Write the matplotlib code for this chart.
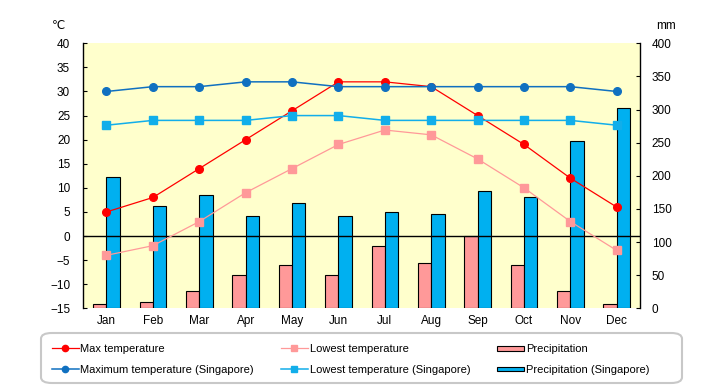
import numpy as np
import matplotlib
matplotlib.use("Agg")
import matplotlib.pyplot as plt
from matplotlib.lines import Line2D
from matplotlib.patches import Patch, FancyBboxPatch, Rectangle
from matplotlib.legend_handler import HandlerPatch

months = ["Jan", "Feb", "Mar", "Apr", "May", "Jun", "Jul", "Aug", "Sep", "Oct", "Nov", "Dec"]

max_temp = [5, 8, 14, 20, 26, 32, 32, 31, 25, 19, 12, 6]
low_temp = [-4, -2, 3, 9, 14, 19, 22, 21, 16, 10, 3, -3]
sg_max_temp = [30, 31, 31, 32, 32, 31, 31, 31, 31, 31, 31, 30]
sg_low_temp = [23, 24, 24, 24, 25, 25, 24, 24, 24, 24, 24, 23]
precip = [6, 10, 26, 50, 65, 51, 94, 68, 109, 66, 26, 6]
sg_precip = [198, 154, 171, 140, 159, 140, 145, 143, 177, 168, 252, 303]

plt.rcParams['font.family'] = ['Liberation Sans', 'DejaVu Sans']
fs = 8.5
lfs = 8.0

fig = plt.figure(figsize=(7.2, 3.85), dpi=100)
ax = fig.add_axes([83.3 / 720, 1 - 308.3 / 385, (640 - 83.3) / 720, 265 / 385])
ax2 = ax.twinx()

x = np.arange(len(months))
w = 0.287

# precipitation bars on the right axis, drawn below the temperature lines
ax2.bar(x - w / 2, precip, width=w, color="#FF9999", edgecolor="black", linewidth=0.8)
ax2.bar(x + w / 2, sg_precip, width=w, color="#00B0F0", edgecolor="black", linewidth=0.8)
ax2.set_ylim(0, 400)
ax2.set_yticks(np.arange(0, 401, 50))
ax2.set_facecolor("#FFFFCC")
ax2.patch.set_visible(True)

ax.set_zorder(ax2.get_zorder() + 1)
ax.patch.set_visible(False)

ax.axhline(0, color="black", linewidth=1.0)
ax.plot(x, max_temp, color="#FF0000", marker="o", markersize=5.5, linewidth=0.9)
ax.plot(x, low_temp, color="#FF9999", marker="s", markersize=5.5, linewidth=0.9)
ax.plot(x, sg_max_temp, color="#1070C0", marker="o", markersize=5.5, linewidth=1.1)
ax.plot(x, sg_low_temp, color="#12AEEA", marker="s", markersize=5.5, linewidth=1.1)

ax.set_ylim(-15, 40)
ax.set_yticks(np.arange(-15, 41, 5))
ax.set_xlim(-0.5, 11.5)
ax.set_xticks(x)
ax.set_xticklabels(months)

for a in (ax, ax2):
    a.spines["top"].set_visible(False)
    a.spines["bottom"].set_visible(False)
    a.spines["left"].set_linewidth(1.0)
    a.spines["right"].set_linewidth(1.0)
ax.spines["right"].set_visible(False)
ax2.spines["left"].set_visible(False)

ax.tick_params(axis="y", direction="in", length=3, pad=9.5, labelsize=fs)
ax.tick_params(axis="x", length=0, pad=5, labelsize=fs)
ax2.tick_params(axis="y", direction="in", length=3, pad=8.5, labelsize=fs)

fig.text(58 / 720, 1 - 26 / 385, "\u2103", fontsize=fs, va="center", ha="center")
fig.text(666 / 720, 1 - 26 / 385, "mm", fontsize=fs, va="center", ha="center")

# legend frame
frame = FancyBboxPatch((41 / 720, 1 - 383 / 385), (682 - 41) / 720, (383 - 333) / 385,
                       boxstyle="round,pad=0,rounding_size=0.015",
                       transform=fig.transFigure, facecolor="white",
                       edgecolor="#C8C8C8", linewidth=1.5)
fig.patches.append(frame)


def thin_rect(legend, orig_handle, xdescent, ydescent, width, height, fontsize):
    return Rectangle((-xdescent, -ydescent + height * 0.2), width, height * 0.55)


handles = [
    Line2D([], [], color="#FF0000", marker="o", markersize=4.5, linewidth=0.9),
    Line2D([], [], color="#1070C0", marker="o", markersize=4.5, linewidth=1.1),
    Line2D([], [], color="#FF9999", marker="s", markersize=4.5, linewidth=0.9),
    Line2D([], [], color="#12AEEA", marker="s", markersize=4.5, linewidth=1.1),
    Patch(facecolor="#FF9999", edgecolor="black", linewidth=0.8),
    Patch(facecolor="#00B0F0", edgecolor="black", linewidth=0.8),
]
labels = ["Max temperature", "Maximum temperature (Singapore)",
          "Lowest temperature", "Lowest temperature (Singapore)",
          "Precipitation", "Precipitation (Singapore)"]
fig.legend(handles, labels, ncol=3, loc="center left",
           bbox_to_anchor=(51.7 / 720, 1 - 359.5 / 385), frameon=False,
           fontsize=lfs, borderpad=0, borderaxespad=0, handlelength=2.43,
           handletextpad=0.15, columnspacing=2.43, labelspacing=0.95,
           handler_map={Patch: HandlerPatch(patch_func=thin_rect)})

fig.savefig("out.png", dpi=100)
